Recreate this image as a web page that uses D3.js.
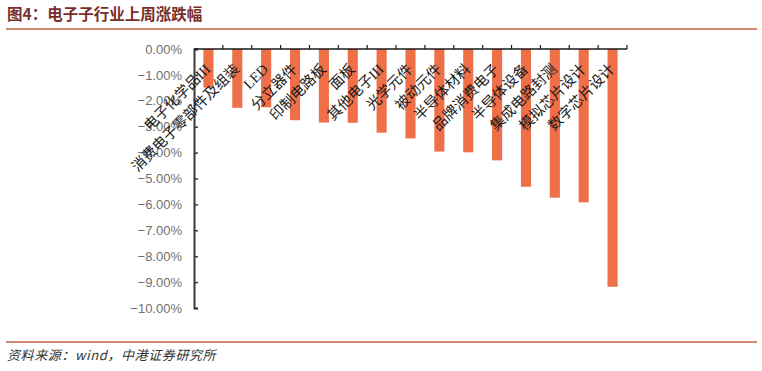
<!DOCTYPE html>
<html>
<head>
<meta charset="utf-8">
<script src="https://cdn.jsdelivr.net/npm/d3@7"></script>
<style>
  body { margin: 0; background: #fff; }
</style>
</head>
<body>
<div id="container"></div>
<script>
// industry names and weekly change (%)
let categories = ["电子化学品III", "消费电子零部件及组装", "LED", "分立器件", "印制电路板", "面板",
  "其他电子III", "光学元件", "被动元件", "半导体材料", "品牌消费电子", "半导体设备",
  "集成电路封测", "模拟芯片设计", "数字芯片设计"];
let values = [-1.49, -2.27, -2.25, -2.75, -2.84, -2.85, -3.23, -3.45, -3.96, -3.99, -4.30, -5.32, -5.74, -5.92, -9.18];
let yTicks = [0, -1, -2, -3, -4, -5, -6, -7, -8, -9, -10];

let w = 762;
let h = 371;

let svg = d3.select("#container")
  .append("svg")
  .attr("width", w)
  .attr("height", h);

// title
svg.append("text")
  .attr("x", 7)
  .attr("y", 20)
  .attr("font-family", "'Noto Sans CJK SC', sans-serif")
  .attr("font-weight", "bold")
  .attr("font-size", "15.5px")
  .attr("fill", "#7a2e2a")
  .text("图4：电子子行业上周涨跌幅");

svg.append("line")
  .attr("x1", 6).attr("x2", 757)
  .attr("y1", 29).attr("y2", 29)
  .attr("stroke", "#c0603e")
  .attr("stroke-width", 1.5);

svg.append("line")
  .attr("x1", 6).attr("x2", 757)
  .attr("y1", 342).attr("y2", 342)
  .attr("stroke", "#c0603e")
  .attr("stroke-width", 1.5);

svg.append("text")
  .attr("x", 7)
  .attr("y", 360)
  .attr("font-family", "'Noto Sans CJK SC', sans-serif")
  .attr("font-style", "italic")
  .attr("font-size", "13px")
  .attr("letter-spacing", "0.6px")
  .attr("fill", "#333")
  .text("资料来源：wind，中港证券研究所");

// scales
let x = d3.scaleBand().domain(categories).range([194, 627]).paddingInner(0.65).paddingOuter(0.325);
let y = d3.scaleLinear().domain([0, -10]).range([49, 308]);

// bars
svg.append("g").selectAll("rect").data(values).enter()
  .append("rect")
  .attr("x", (d, i) => x(categories[i]))
  .attr("y", y(0))
  .attr("width", x.bandwidth())
  .attr("height", d => y(d) - y(0))
  .attr("fill", "#ef6f48");

// y axis
let yAxis = d3.axisRight(y)
  .tickValues(yTicks)
  .tickSize(4)
  .tickFormat(d => d3.format(".2f")(d) + "%");

let yg = svg.append("g")
  .attr("transform", "translate(194,0)")
  .call(yAxis);
yg.select(".domain").attr("stroke", "#3a3a3a").attr("stroke-width", 2);
yg.selectAll(".tick line").attr("stroke", "#3a3a3a").attr("stroke-width", 1.5);
yg.selectAll(".tick text")
  .attr("x", -12)
  .attr("text-anchor", "end")
  .attr("font-family", "'Liberation Sans', Arial, sans-serif")
  .attr("font-size", "13px")
  .attr("fill", "#707070");

// top category axis
let xBoundary = d3.scaleLinear().domain([0, categories.length]).range([194, 627]);
let xg = svg.append("g");
xg.append("line")
  .attr("x1", xBoundary(0)).attr("x2", xBoundary(categories.length))
  .attr("y1", y(0)).attr("y2", y(0))
  .attr("stroke", "#1a1a1a")
  .attr("stroke-width", 1.5);
xg.selectAll(".xtick").data(d3.range(1, categories.length + 1)).enter()
  .append("line")
  .attr("x1", d => xBoundary(d)).attr("x2", d => xBoundary(d))
  .attr("y1", y(0)).attr("y2", y(0) - 4)
  .attr("stroke", "#1a1a1a")
  .attr("stroke-width", 1.2);

xg.selectAll(".xlabel").data(categories).enter()
  .append("text")
  .attr("text-anchor", "end")
  .attr("font-family", "'Liberation Serif', 'Noto Sans CJK SC', serif")
  .attr("font-size", "14.5px")
  .attr("fill", "#1a1a1a")
  .attr("transform", d => "translate(" + (x(d) + x.bandwidth() / 2 + 3) + "," + (y(0) + 21) + ") rotate(-45)")
  .text(d => d);
</script>
</body>
</html>
